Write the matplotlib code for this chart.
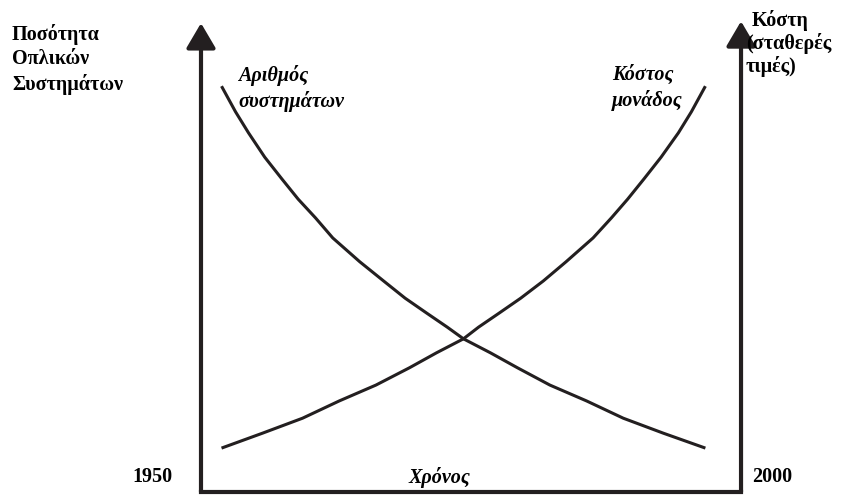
import matplotlib
matplotlib.use("Agg")
from matplotlib import pyplot as plt

# data: years and relative values (0-100 scale)
years_count = [1951.9, 1953.2, 1954.4, 1955.9, 1957.5, 1959.0, 1960.6, 1962.2,
               1964.7, 1966.9, 1968.9, 1970.9, 1972.8, 1974.3, 1976.8, 1979.3,
               1982.3, 1985.7, 1989.1, 1992.8, 1996.7]
count_vals = [86.9, 81.4, 76.9, 71.7, 67.0, 62.7, 58.7, 54.4,
              49.3, 45.2, 41.5, 38.3, 35.3, 32.8, 29.8, 26.6,
              22.9, 19.5, 15.8, 12.6, 9.4]

years_cost = [1951.9, 1955.7, 1959.4, 1962.8, 1966.2, 1969.3, 1971.8, 1974.3,
              1975.7, 1977.6, 1979.6, 1981.7, 1983.8, 1986.3, 1988.0, 1989.5,
              1991.0, 1992.6, 1994.2, 1995.4, 1996.7]
cost_vals = [9.4, 12.6, 15.8, 19.5, 22.9, 26.6, 29.8, 32.8,
             35.3, 38.3, 41.5, 45.2, 49.3, 54.4, 58.7, 62.7,
             67.0, 71.7, 76.9, 81.4, 86.9]

year_start, year_end = 1950, 2000
axis_top = 100

ink = "#231f20"
plt.rcParams['font.family'] = ['Liberation Serif', 'DejaVu Serif']

fig = plt.figure(figsize=(8.54, 4.97), dpi=100)
ax = fig.add_axes([0, 0, 1, 1])
ax.set_xlim(1931.39, 2010.46)
ax.set_ylim(-1.07, 105.35)
ax.axis("off")

# the two axes drawn as arrows, joined by the time axis
arrow = dict(arrowstyle="-|>,head_length=0.85,head_width=0.5", lw=3, color=ink,
             mutation_scale=18, shrinkA=0, shrinkB=0)
ax.annotate("", xy=(year_start, axis_top + 0.4), xytext=(year_start, 0), arrowprops=arrow)
ax.annotate("", xy=(year_end, axis_top + 0.8), xytext=(year_end, 0), arrowprops=arrow)
ax.plot([year_start, year_end], [0, 0], color=ink, lw=3, solid_capstyle="projecting")

# curves
ax.plot(years_count, count_vals, color=ink, lw=2.2, solid_capstyle="butt")
ax.plot(years_cost, cost_vals, color=ink, lw=2.2, solid_capstyle="butt")

def px(x, y):
    return x / 854, 1 - y / 497

fs = 14.5
fig.text(*px(12, 24), "Ποσότητα\nΟπλικών\nΣυστημάτων", fontsize=fs, fontweight="bold",
         va="top", ha="left", linespacing=1.3)
fig.text(*px(752, 10), "Κόστη", fontsize=fs, fontweight="bold", va="top", ha="left")
fig.text(*px(746, 33), "(σταθερές\nτιμές)", fontsize=fs, fontweight="bold",
         va="top", ha="left", linespacing=1.15)
fig.text(*px(238, 65), "Αριθμός\nσυστημάτων", fontsize=fs, fontweight="bold",
         style="italic", va="top", ha="left", linespacing=1.3)
fig.text(*px(612, 65), "Κόστος\nμονάδος", fontsize=fs, fontweight="bold",
         style="italic", va="top", ha="left", linespacing=1.3)
fig.text(*px(152, 477), "1950", fontsize=fs, fontweight="bold", va="center", ha="center")
fig.text(*px(772, 477), "2000", fontsize=fs, fontweight="bold", va="center", ha="center")
fig.text(*px(439, 477), "Χρόνος", fontsize=fs, fontweight="bold", style="italic",
         va="center", ha="center")

fig.savefig("out.png", dpi=100)
